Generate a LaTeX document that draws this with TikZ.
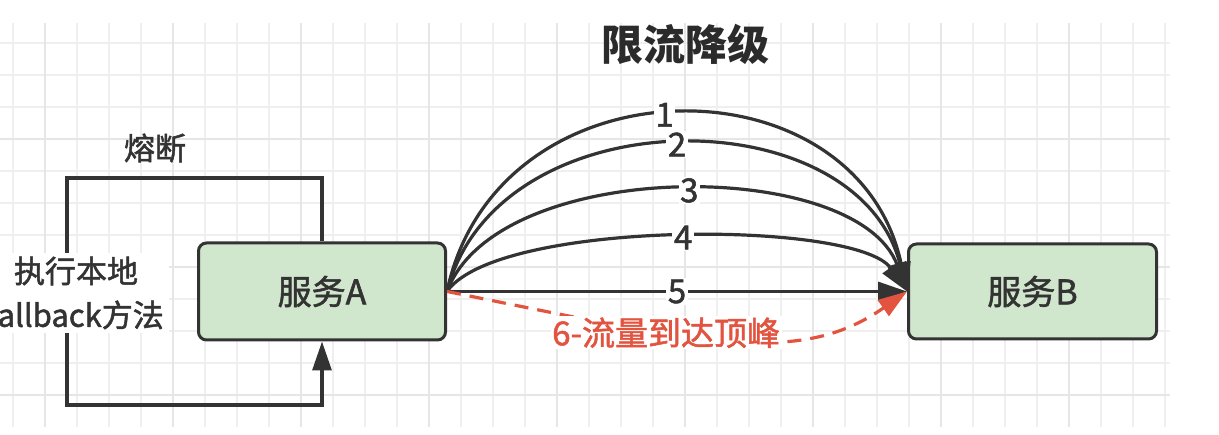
\documentclass[tikz,border=0pt]{standalone}
\usepackage{fontspec}
\newfontfamily\cjk{Noto Sans CJK SC}[FakeBold=1.6]
\newfontfamily\cjkt{Noto Sans CJK SC}
\usetikzlibrary{arrows.meta}
\definecolor{ink}{HTML}{333333}
\definecolor{boxfill}{HTML}{D0E6CD}
\definecolor{peak}{HTML}{E2543F}
\definecolor{gridminor}{HTML}{EFEFEF}
\definecolor{gridmajor}{HTML}{E6E6E6}
\begin{document}
\begin{tikzpicture}[x=1pt,y=-1pt,
  svc/.style={draw=ink, line width=3pt, fill=boxfill, rounded corners=8pt,
    minimum width=247pt, minimum height=97pt, inner sep=0pt,
    font=\cjk\fontsize{34}{40}\selectfont, text=ink},
  tipA/.style={-{Triangle[length=29pt,width=19pt]}},
  arcline/.style={draw=ink, line width=3.2pt, tipA},
  num/.style={fill=white, inner sep=1.5pt, text=ink, font=\cjk\fontsize{33}{38}\selectfont},
  flow/.style={draw=peak, line width=3.2pt, dash pattern=on 14pt off 9pt, tipA},
  loopline/.style={draw=ink, line width=3.2pt},
  minorgrid/.style={draw=gridminor, line width=1.4pt},
  majorgrid/.style={draw=gridmajor, line width=1.4pt}]

\useasboundingbox (0,0) rectangle (1219,435);

% background grid
\foreach \i in {0,...,36} { \draw[minorgrid] ({13+32*\i},23) -- ({13+32*\i},427); }
\foreach \j in {0,...,11} { \draw[minorgrid] (0,{43+32*\j}) -- (1170,{43+32*\j}); }
\foreach \i in {1,5,...,33} { \draw[majorgrid] ({13+32*\i},23) -- ({13+32*\i},427); }
\foreach \j in {3,7,11} { \draw[majorgrid] (0,{43+32*\j}) -- (1170,{43+32*\j}); }

% title
\node[font=\cjkt\bfseries\fontsize{42}{48}\selectfont, text=ink!85!black] (title) at (685,44) {限流降级};

% services
\node[svc] (A) at (322,291.5) {服务A};
\node[svc, minimum width=248pt, minimum height=95pt] (B) at (1032.5,291.5) {服务B};

% fallback loop
\coordinate (lt) at (67,178);
\coordinate (lb) at (67,405);
\draw[loopline, tipA] (A.north) |- (lt) -- (lb) -| (A.south);
\node[font=\cjk\fontsize{31}{36}\selectfont, text=ink] (fuse) at (155,148) {熔断};
\node[fill=white, inner xsep=5pt, inner ysep=4pt, align=center, text=ink,
  font=\cjk\fontsize{31}{44}\selectfont] (fb) at (76,293) {执行本地\\fallback方法};

% requests
\draw[arcline] (A.east) .. controls +(50,-236) and +(-50,-236) .. (B.west) node[num, pos=0.48] (n1) {1};
\draw[arcline] (A.east) .. controls +(50,-196) and +(-50,-196) .. (B.west) node[num, pos=0.5] (n2) {2};
\draw[arcline] (A.east) .. controls +(50,-135) and +(-50,-135) .. (B.west) node[num, pos=0.52] (n3) {3};
\draw[arcline] (A.east) .. controls +(50,-72) and +(-50,-72) .. (B.west) node[num, pos=0.51] (n4) {4};
\draw[arcline] (A.east) -- (B.west) node[num, pos=0.5] (n5) {5};

% peak flow
\draw[flow] (A.east) .. controls +(250,50) and +(-110,77) .. (B.west)
  node[pos=0.36, fill=white, inner sep=1.5pt, text=peak, font=\cjk\fontsize{33}{38}\selectfont] (n6) {6-流量到达顶峰};
\end{tikzpicture}
\end{document}
